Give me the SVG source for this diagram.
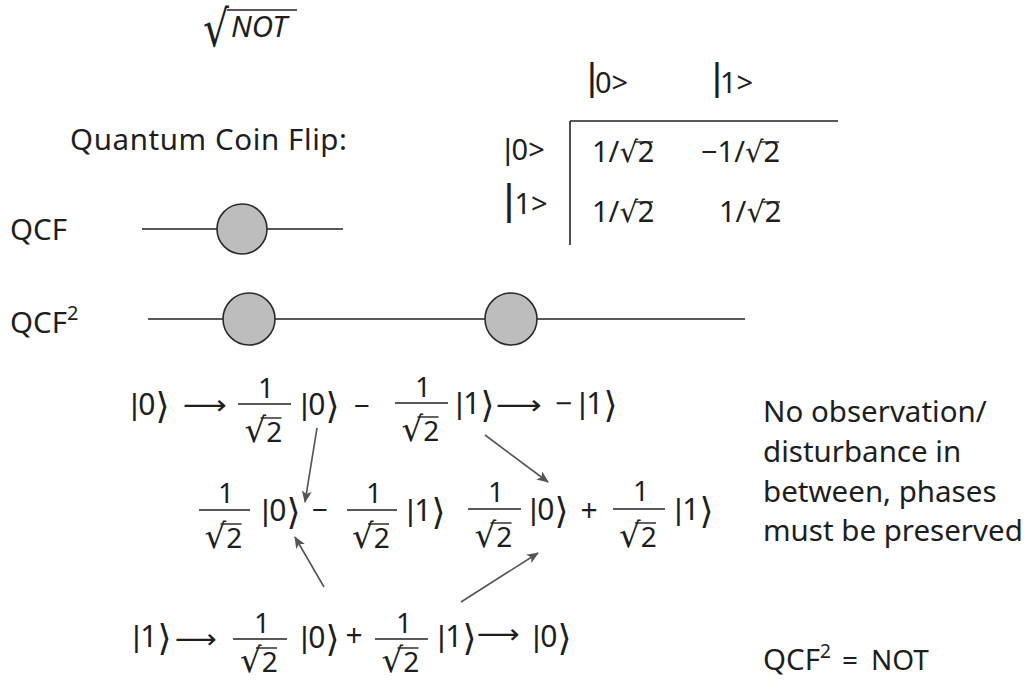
<svg xmlns="http://www.w3.org/2000/svg" width="1029" height="681" viewBox="0 0 1029 681">
<style>
.t{font-family:"Noto Sans","DejaVu Sans",sans-serif;fill:#1e1e1e;font-size:29.5px}
.m{font-family:"Noto Sans","DejaVu Sans",sans-serif;fill:#1e1e1e;font-size:28px}
.k{font-family:"Noto Sans","DejaVu Sans",sans-serif;fill:#1e1e1e;font-size:30px}
.tb{font-family:"Noto Sans","DejaVu Sans",sans-serif;fill:#1e1e1e;font-size:29px}
.bar{font-family:"Liberation Sans",sans-serif}
.c{text-anchor:middle}
.r{font-size:34px}
.an{font-family:"DejaVu Sans",sans-serif;font-size:36px}
.ar{font-family:"DejaVu Sans",sans-serif;fill:#1e1e1e;font-size:27px}
.ln{stroke:#222;stroke-width:1.6;fill:none}
.fb{stroke:#222;stroke-width:1.4}
.ob{stroke:#222;stroke-width:1.4}
.gate{fill:#bdbdbd;stroke:#2a2a2a;stroke-width:1.6}
.con{stroke:#555;stroke-width:1.6;fill:none;marker-end:url(#ah)}
</style>
<defs>
<marker id="ah" viewBox="0 0 12 10" refX="11" refY="5" markerWidth="12" markerHeight="10" markerUnits="userSpaceOnUse" orient="auto">
<path d="M0,0 L12,5 L0,10 L3,5 z" fill="#555"/>
</marker>
</defs>
<rect width="1029" height="681" fill="#fff"/>

<g id="title-sqrtnot">
<text x="203" y="46" font-family="DejaVu Sans,sans-serif" font-size="50" fill="#1e1e1e" textLength="26" lengthAdjust="spacingAndGlyphs">√</text>
<line class="ob" x1="227" y1="10" x2="297" y2="10"/>
<text x="231" y="37" class="t" font-size="28" font-style="italic">NOT</text>
</g>

<g id="label-qcf-title"><text class="t" x="70" y="150" textLength="277">Quantum Coin Flip:</text></g>

<g id="table">
<text class="tb" x="587" y="93" font-size="28"><tspan class="bar" font-size="38" dy="-3">|</tspan><tspan dy="3" dx="-2">0&gt;</tspan></text>
<text class="tb" x="712" y="93" font-size="28"><tspan class="bar" font-size="38" dy="-3">|</tspan><tspan dy="3" dx="-2">1&gt;</tspan></text>
<line class="ln" x1="570" y1="121" x2="838" y2="121"/>
<line class="ln" x1="570" y1="121" x2="570" y2="245"/>
<text class="tb" x="504" y="160" font-size="30"><tspan class="bar">|</tspan>0&gt;</text>
<text class="tb" x="503.5" y="214" font-size="30"><tspan class="bar" font-size="42">|</tspan>1&gt;</text>
<text class="tb" x="592" y="162">1/√2</text>
<line class="ob" x1="634" y1="142" x2="653" y2="142"/>
<text class="tb" x="701" y="162">−1/√2</text>
<line class="ob" x1="760" y1="142" x2="779" y2="142"/>
<text class="tb" x="592" y="222">1/√2</text>
<line class="ob" x1="634" y1="202" x2="653" y2="202"/>
<text class="tb" x="719" y="222">1/√2</text>
<line class="ob" x1="761" y1="202" x2="780" y2="202"/>
</g>

<g id="label-qcf"><text class="t" x="10" y="240">QCF</text></g>
<g id="wire-qcf">
<line class="ln" x1="142" y1="229" x2="343" y2="229"/>
<circle class="gate" cx="242" cy="229" r="25"/>
</g>

<g id="label-qcf2"><text class="t" x="10" y="333">QCF<tspan font-size="20" dy="-13">2</tspan></text></g>
<g id="wire-qcf2">
<line class="ln" x1="148" y1="319" x2="745" y2="319"/>
<circle class="gate" cx="249" cy="319" r="26"/>
<circle class="gate" cx="511" cy="319" r="26"/>
</g>

<g id="eq-row1">
<text class="k" x="130.5" y="415"><tspan class="bar">|</tspan>0<tspan class="an" dy="3">⟩</tspan></text>
<text class="ar" x="183" y="414" textLength="44" lengthAdjust="spacingAndGlyphs">⟶</text>
<line class="fb" x1="238" y1="404" x2="291" y2="404"/>
<text class="m c" x="266" y="398">1</text>
<text class="m" y="442"><tspan class="r" x="244.5">√</tspan>2</text>
<line class="ob" x1="260.5" y1="418" x2="281.5" y2="418"/>
<text class="k" x="300.5" y="415"><tspan class="bar">|</tspan>0<tspan class="an" dy="3">⟩</tspan></text>
<text class="m c" x="362" y="416">−</text>
<line class="fb" x1="395" y1="403" x2="448" y2="403"/>
<text class="m c" x="423" y="397">1</text>
<text class="m" y="441"><tspan class="r" x="401.5">√</tspan>2</text>
<line class="ob" x1="417.5" y1="417" x2="438.5" y2="417"/>
<text class="k" x="455.5" y="414"><tspan class="bar">|</tspan>1<tspan class="an" dy="3">⟩</tspan></text>
<text class="ar" x="496" y="414" textLength="46" lengthAdjust="spacingAndGlyphs">⟶</text>
<text class="k" x="555" y="414">−<tspan class="bar" x="578.5">|</tspan>1<tspan class="an" dy="3">⟩</tspan></text>
</g>

<g id="eq-row2">
<line class="fb" x1="199" y1="510" x2="250" y2="510"/>
<text class="m c" x="226" y="503">1</text>
<text class="m" y="548"><tspan class="r" x="204.5">√</tspan>2</text>
<line class="ob" x1="220.5" y1="524" x2="241.5" y2="524"/>
<text class="k" x="261.5" y="521"><tspan class="bar">|</tspan>0<tspan class="an" dy="3">⟩</tspan></text>
<text class="m c" x="320" y="520">−</text>
<line class="fb" x1="347" y1="510" x2="397" y2="510"/>
<text class="m c" x="374" y="503">1</text>
<text class="m" y="548"><tspan class="r" x="352">√</tspan>2</text>
<line class="ob" x1="368" y1="524" x2="389" y2="524"/>
<text class="k" x="406.5" y="521"><tspan class="bar">|</tspan>1<tspan class="an" dy="3">⟩</tspan></text>
<line class="fb" x1="468" y1="509" x2="521" y2="509"/>
<text class="m c" x="496" y="502">1</text>
<text class="m" y="547"><tspan class="r" x="474.5">√</tspan>2</text>
<line class="ob" x1="490.5" y1="523" x2="511.5" y2="523"/>
<text class="k" x="529.5" y="520"><tspan class="bar">|</tspan>0<tspan class="an" dy="3">⟩</tspan></text>
<text class="k c" x="589" y="521">+</text>
<line class="fb" x1="613" y1="509" x2="665" y2="509"/>
<text class="m c" x="641" y="501">1</text>
<text class="m" y="547"><tspan class="r" x="619">√</tspan>2</text>
<line class="ob" x1="635" y1="523" x2="656" y2="523"/>
<text class="k" x="674.5" y="520"><tspan class="bar">|</tspan>1<tspan class="an" dy="3">⟩</tspan></text>
</g>

<g id="eq-row3">
<text class="k" x="132.5" y="647"><tspan class="bar">|</tspan>1<tspan class="an" dy="3">⟩</tspan></text>
<text class="ar" x="175" y="648" textLength="42" lengthAdjust="spacingAndGlyphs">⟶</text>
<line class="fb" x1="233" y1="639" x2="287" y2="639"/>
<text class="m c" x="262" y="633">1</text>
<text class="m" y="672"><tspan class="r" x="240">√</tspan>2</text>
<line class="ob" x1="256" y1="648" x2="277" y2="648"/>
<text class="k" x="300.5" y="648"><tspan class="bar">|</tspan>0<tspan class="an" dy="3">⟩</tspan></text>
<text class="k c" x="354" y="646">+</text>
<line class="fb" x1="375" y1="639" x2="428" y2="639"/>
<text class="m c" x="404" y="633">1</text>
<text class="m" y="672"><tspan class="r" x="381.5">√</tspan>2</text>
<line class="ob" x1="397.5" y1="648" x2="418.5" y2="648"/>
<text class="k" x="437.5" y="647"><tspan class="bar">|</tspan>1<tspan class="an" dy="3">⟩</tspan></text>
<text class="ar" x="477" y="643" textLength="43" lengthAdjust="spacingAndGlyphs">⟶</text>
<text class="k" x="532.5" y="647"><tspan class="bar">|</tspan>0<tspan class="an" dy="3">⟩</tspan></text>
</g>

<g id="connectors">
<line class="con" x1="317" y1="428" x2="305" y2="502"/>
<line class="con" x1="485" y1="435" x2="548" y2="482"/>
<line class="con" x1="324" y1="587" x2="295" y2="537"/>
<line class="con" x1="461" y1="602" x2="538" y2="553"/>
</g>

<g id="note">
<text class="t" x="763" y="422">No observation/</text>
<text class="t" x="763" y="462">disturbance in</text>
<text class="t" x="763" y="502">between, phases</text>
<text class="t" x="763" y="541">must be preserved</text>
</g>

<g id="note-qcf2-not">
<text class="t" x="763" y="670" font-size="24">QCF<tspan font-size="19" dy="-12">2</tspan><tspan x="842" dy="12" font-size="28">=</tspan><tspan x="871" font-size="28">NOT</tspan></text>
</g>
</svg>
